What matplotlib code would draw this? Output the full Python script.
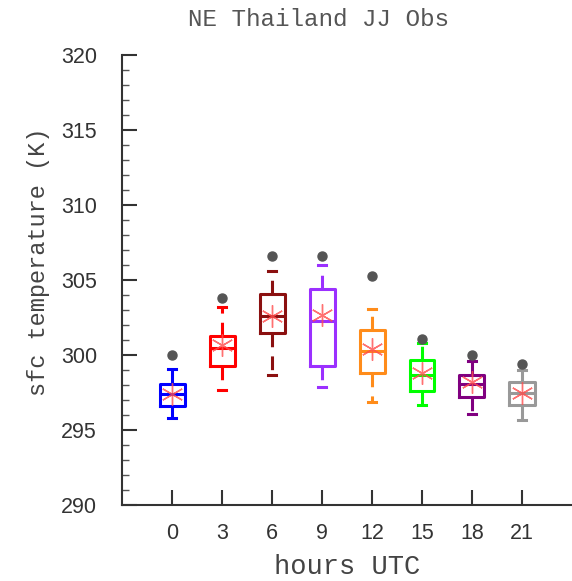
import matplotlib
matplotlib.use("Agg")
import matplotlib.pyplot as plt
from matplotlib.ticker import MultipleLocator

# hours of the day (UTC) and the box statistics at each hour
hours = [0, 3, 6, 9, 12, 15, 18, 21]
whisker_lo = [295.8, 297.7, 298.7, 297.9, 296.9, 296.7, 296.1, 295.7]
q1 = [296.6, 299.3, 301.5, 299.3, 298.8, 297.6, 297.2, 296.7]
median = [297.4, 300.5, 302.6, 302.3, 300.3, 298.7, 298.1, 297.5]
q3 = [298.1, 301.3, 304.1, 304.4, 301.7, 299.7, 298.7, 298.2]
whisker_hi = [299.1, 303.2, 305.6, 306.0, 303.1, 300.8, 299.6, 299.0]
mean = [297.4, 300.7, 302.6, 302.7, 300.4, 298.8, 298.2, 297.5]
outlier = [300.0, 303.8, 306.6, 306.6, 305.3, 301.1, 300.0, 299.4]

box_colors = ["#0000ff", "#ff0000", "#8b1010", "#9b30ff",
              "#ff8c1a", "#00ff00", "#800080", "#999999"]

stats = []
for i in range(len(hours)):
    stats.append({"whislo": whisker_lo[i], "q1": q1[i], "med": median[i],
                  "q3": q3[i], "whishi": whisker_hi[i], "mean": mean[i],
                  "fliers": [outlier[i]]})

fig = plt.figure(figsize=(5.72, 5.81), dpi=100)
ax = fig.add_axes([122 / 572, 76 / 581, 450 / 572, 450 / 581])

parts = ax.bxp(stats, positions=hours, widths=1.5, capwidths=0.5,
               showmeans=True, patch_artist=False,
               meanprops=dict(marker=(6, 2, 0), markersize=16,
                              markeredgecolor="#ff4d4d", markeredgewidth=1.0,
                              alpha=0.8, linestyle="none"),
               flierprops=dict(marker="o", markersize=6.5,
                               markerfacecolor="#555555",
                               markeredgecolor="#555555"))

# colour each box, its median, whiskers and caps
for i, c in enumerate(box_colors):
    parts["boxes"][i].set(color=c, linewidth=2.2)
    parts["medians"][i].set(color=c, linewidth=2.2)
    for w in parts["whiskers"][2 * i:2 * i + 2]:
        w.set(color=c, linewidth=2.2, linestyle=(0, (4.5, 3)))
    for cap in parts["caps"][2 * i:2 * i + 2]:
        cap.set(color=c, linewidth=2.2)

ax.set_xlim(-3, 24)
ax.set_ylim(290, 320)
ax.set_xticks(hours)
ax.set_xticklabels([str(h) for h in hours])
ax.yaxis.set_major_locator(MultipleLocator(5))
ax.yaxis.set_minor_locator(MultipleLocator(1))

for side in ["top", "right"]:
    ax.spines[side].set_visible(False)
for side in ["left", "bottom"]:
    ax.spines[side].set_linewidth(1.5)
    ax.spines[side].set_color("#333333")

ax.tick_params(axis="both", which="major", direction="in", length=11,
               width=1.5, color="#333333", labelsize=15.5, labelcolor="#333333")
ax.tick_params(axis="y", which="major", pad=18)
ax.tick_params(axis="x", which="major", pad=13)
ax.tick_params(axis="y", which="minor", direction="in", length=5,
               width=1, color="#555555")
for lab in ax.get_xticklabels() + ax.get_yticklabels():
    lab.set_fontfamily("Liberation Sans")

ax.set_xlabel("hours UTC", fontsize=19.5, family="Liberation Mono",
              color="#444444", labelpad=7)
ax.set_ylabel("sfc temperature (K)", fontsize=17, family="Liberation Mono",
              color="#444444")
ax.yaxis.set_label_coords(-0.16, 0.54)
fig.text(318 / 572, 1 - 19 / 581, "NE Thailand JJ Obs", fontsize=17.5,
         family="Liberation Mono", color="#555555", ha="center", va="center")

fig.savefig("out.png", dpi=100)
